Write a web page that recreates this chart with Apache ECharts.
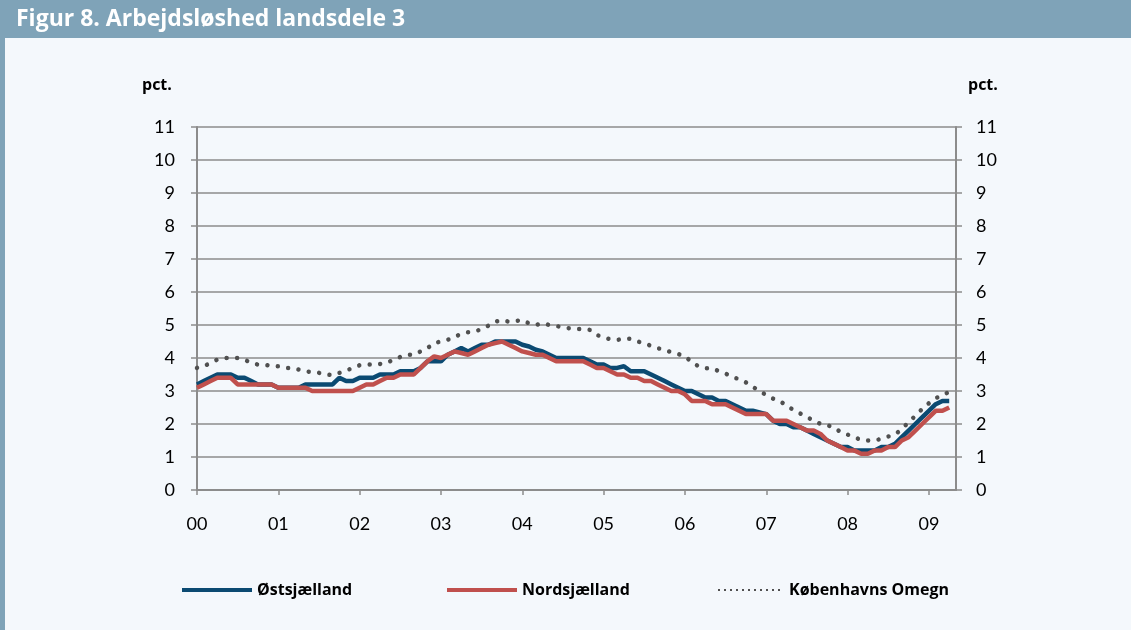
<!DOCTYPE html>
<html>
<head>
<meta charset="utf-8">
<script src="https://cdn.jsdelivr.net/npm/echarts@6/dist/echarts.min.js"></script>
<style>
html,body{margin:0;padding:0;background:#f4f8fc;}
#c{width:1131px;height:630px;}
</style>
</head>
<body>
<div id="c"></div>
<script>
const years = ['00','01','02','03','04','05','06','07','08','09'];
const yTicks = [0,1,2,3,4,5,6,7,8,9,10,11];

const ostsjaelland = [
 3.2,3.3,3.4,3.5,3.5,3.5,3.4,3.4,3.3,3.2,3.2,3.2,
 3.1,3.1,3.1,3.1,3.2,3.2,3.2,3.2,3.2,3.4,3.3,3.3,
 3.4,3.4,3.4,3.5,3.5,3.5,3.6,3.6,3.6,3.7,3.9,3.9,
 3.9,4.1,4.2,4.3,4.2,4.3,4.4,4.4,4.5,4.5,4.5,4.5,
 4.4,4.35,4.25,4.2,4.1,4.0,4.0,4.0,4.0,4.0,3.9,3.8,
 3.8,3.7,3.7,3.75,3.6,3.6,3.6,3.5,3.4,3.3,3.2,3.1,
 3.0,3.0,2.9,2.8,2.8,2.7,2.7,2.6,2.5,2.4,2.4,2.35,
 2.3,2.1,2.0,2.0,1.9,1.9,1.8,1.7,1.6,1.5,1.4,1.3,
 1.3,1.2,1.2,1.2,1.2,1.3,1.3,1.4,1.6,1.8,2.0,2.2,2.4,2.6,2.7,2.7
];
const nordsjaelland = [
 3.1,3.2,3.3,3.4,3.4,3.4,3.2,3.2,3.2,3.2,3.2,3.2,
 3.1,3.1,3.1,3.1,3.1,3.0,3.0,3.0,3.0,3.0,3.0,3.0,
 3.1,3.2,3.2,3.3,3.4,3.4,3.5,3.5,3.5,3.7,3.9,4.05,
 4.0,4.1,4.2,4.15,4.1,4.2,4.3,4.4,4.45,4.5,4.4,4.3,
 4.2,4.15,4.1,4.1,4.0,3.9,3.9,3.9,3.9,3.9,3.8,3.7,
 3.7,3.6,3.5,3.5,3.4,3.4,3.3,3.3,3.2,3.1,3.0,3.0,
 2.9,2.7,2.7,2.7,2.6,2.6,2.6,2.5,2.4,2.3,2.3,2.3,
 2.3,2.1,2.1,2.1,2.0,1.9,1.8,1.8,1.7,1.5,1.4,1.3,
 1.2,1.2,1.1,1.1,1.2,1.2,1.3,1.3,1.5,1.6,1.8,2.0,2.2,2.4,2.4,2.5
];
const kobenhavnsOmegn = [
 3.7,3.75,3.85,3.95,4.0,4.0,4.0,3.95,3.85,3.8,3.8,3.75,
 3.75,3.7,3.7,3.65,3.6,3.57,3.55,3.5,3.48,3.55,3.62,3.7,
 3.78,3.8,3.8,3.82,3.85,3.95,4.03,4.1,4.1,4.2,4.3,4.45,
 4.5,4.55,4.65,4.72,4.78,4.8,4.88,4.98,5.1,5.15,5.1,5.12,
 5.15,5.05,5.0,5.05,5.0,4.97,4.93,4.9,4.88,4.88,4.85,4.7,
 4.62,4.57,4.55,4.58,4.58,4.5,4.45,4.37,4.3,4.23,4.18,4.12,
 4.05,3.88,3.75,3.69,3.69,3.6,3.53,3.42,3.36,3.26,3.13,3.0,
 2.88,2.77,2.7,2.55,2.43,2.32,2.2,2.12,2.0,1.96,1.9,1.75,
 1.68,1.6,1.52,1.5,1.5,1.55,1.62,1.68,1.85,2.05,2.25,2.45,2.63,2.78,2.88,2.97
];
const seriesNames = ['Østsjælland','Nordsjælland','Københavns Omegn'];

// month categories: Jan 2000 .. May 2009
const categories = [];
years.forEach(y => { for (let m = 1; m <= 12; m++) categories.push(y + '-' + m); });
categories.length = 113;

const FONT = 'Lato';
const BFONT = 'Open Sans';
const GRID = '#8c8c8c';
const isYear = (i) => i % 12 === 0;
const legendText = {fontFamily:BFONT, fontWeight:'bold', fontSize:16, color:'#000'};

const chart = echarts.init(document.getElementById('c'), null, {renderer:'canvas'});
chart.setOption({
  backgroundColor: '#f4f8fc',
  animation: false,
  graphic: [
    {type:'rect', left:0, top:0, shape:{width:1131, height:38}, style:{fill:'#7fa3b8'}, z:0},
    {type:'rect', left:0, top:0, shape:{width:5, height:630}, style:{fill:'#7fa3b8'}, z:0}
  ],
  title: [
    {text:'Figur 8. Arbejdsløshed landsdele 3', left:11, top:3,
     textStyle:{color:'#ffffff', fontFamily:BFONT, fontWeight:'bold', fontSize:23}},
    {text:'pct.', left:137, top:72, textStyle:{color:'#000', fontFamily:BFONT, fontWeight:'bold', fontSize:16}},
    {text:'pct.', left:963, top:72, textStyle:{color:'#000', fontFamily:BFONT, fontWeight:'bold', fontSize:16}}
  ],
  grid: {left:197, right:175, top:127, bottom:140, containLabel:false},
  xAxis: {
    type:'category', data:categories, boundaryGap:false,
    axisLine:{show:true, lineStyle:{color:GRID, width:2}},
    axisTick:{show:true, interval:(i)=>isYear(i), length:5, lineStyle:{color:GRID, width:1.5}},
    axisLabel:{interval:(i)=>isYear(i), formatter:(v)=>v.split('-')[0], margin:25,
      color:'#000', fontFamily:FONT, fontSize:18},
    splitLine:{show:false}
  },
  yAxis: [
    {type:'value', min:yTicks[0], max:yTicks[yTicks.length-1], interval:1, position:'left',
     axisLine:{show:true, lineStyle:{color:GRID, width:2}},
     axisTick:{show:true, length:6, lineStyle:{color:GRID, width:1.5}},
     axisLabel:{margin:22, color:'#000', fontFamily:FONT, fontSize:18},
     splitLine:{show:true, lineStyle:{color:GRID, width:1.5}}},
    {type:'value', min:yTicks[0], max:yTicks[yTicks.length-1], interval:1, position:'right',
     axisLine:{show:true, lineStyle:{color:GRID, width:2}},
     axisTick:{show:true, length:6, lineStyle:{color:GRID, width:1.5}},
     axisLabel:{margin:20, color:'#000', fontFamily:FONT, fontSize:18},
     splitLine:{show:false}}
  ],
  legend: [
    {data:[seriesNames[0]], left:175, top:577, itemWidth:70, itemHeight:14,
     itemStyle:{opacity:0}, lineStyle:{width:4}, textStyle:legendText},
    {data:[seriesNames[1]], left:440, top:577, itemWidth:70, itemHeight:14,
     itemStyle:{opacity:0}, lineStyle:{width:4}, textStyle:legendText},
    {data:[seriesNames[2]], left:712, top:577, itemWidth:66, itemHeight:14,
     itemStyle:{opacity:0}, lineStyle:{type:[2,4], width:2, cap:'butt'},
     textStyle:legendText}
  ],
  series: [
    {name:seriesNames[0], type:'line', data:ostsjaelland, symbol:'none',
     lineStyle:{color:'#0b4a72', width:4.5}, itemStyle:{color:'#0b4a72'}},
    {name:seriesNames[1], type:'line', data:nordsjaelland, symbol:'none',
     lineStyle:{color:'#c0504d', width:4.5}, itemStyle:{color:'#c0504d'}},
    {name:seriesNames[2], type:'line', data:kobenhavnsOmegn, symbol:'none',
     lineStyle:{color:'#505050', width:4.5, type:[0.01, 10.5], cap:'round'}, itemStyle:{color:'#505050'}}
  ]
});
</script>
</body>
</html>
